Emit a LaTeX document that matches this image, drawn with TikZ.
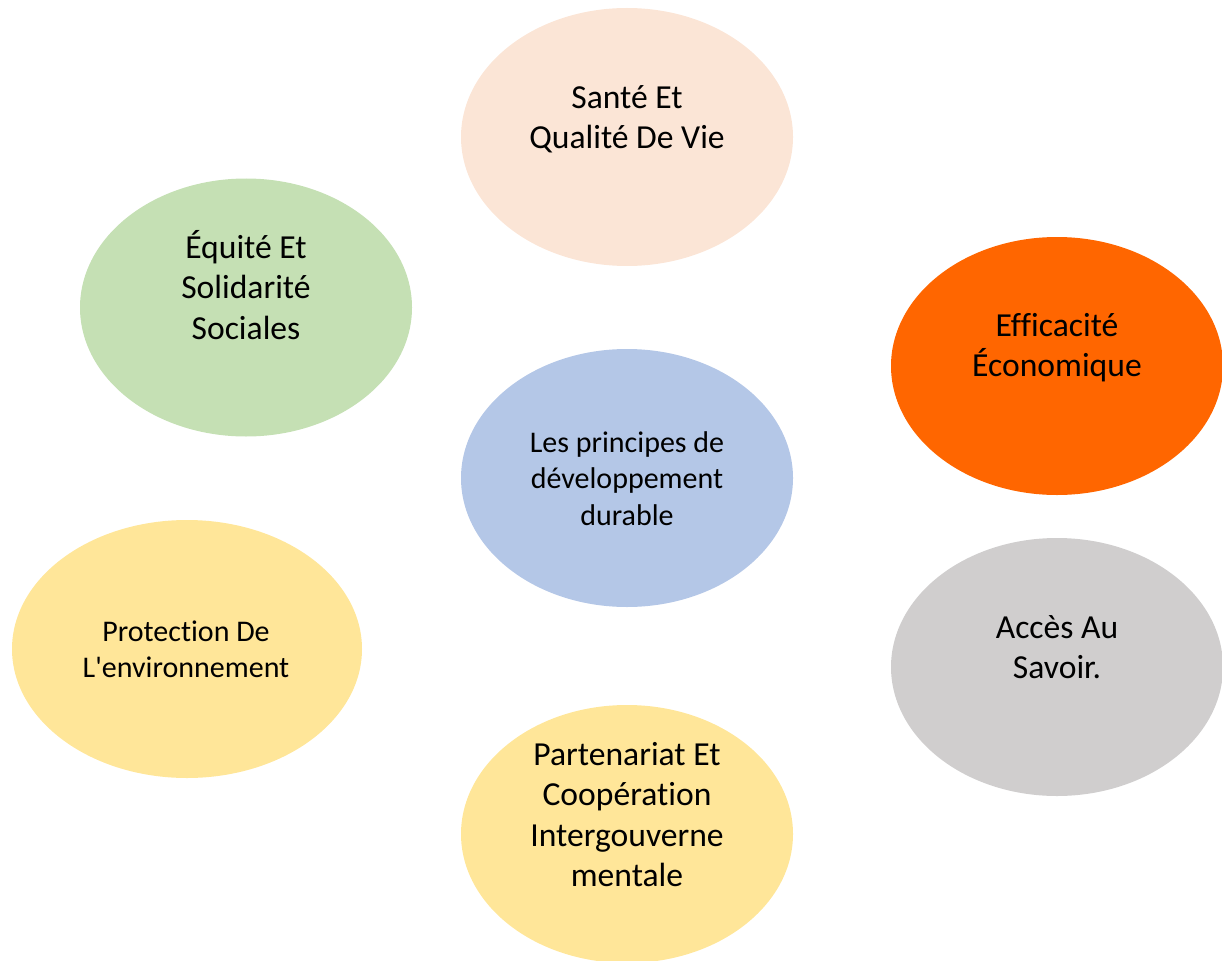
\documentclass[tikz,border=0pt]{standalone}
\usepackage{fontspec}
\setmainfont{Carlito}[Ligatures={TeXOff,CommonOff}]
\usetikzlibrary{shapes.geometric}
\definecolor{cPeach}{HTML}{FBE5D6}
\definecolor{cGreen}{HTML}{C5E0B4}
\definecolor{cOrange}{HTML}{FF6600}
\definecolor{cBlue}{HTML}{B4C7E7}
\definecolor{cYellow}{HTML}{FFE699}
\definecolor{cGray}{HTML}{D0CECE}
\tikzset{
  bubble/.style={ellipse, draw=none, inner sep=0pt, minimum width=332pt, minimum height=258pt},
  bigtext/.style={anchor=north, inner sep=0pt, align=center, font=\fontsize{33.6}{40.5}\selectfont},
  smalltext/.style={anchor=north, inner sep=0pt, align=center, font=\fontsize{30}{36.5}\selectfont},
}
\begin{document}
\begin{tikzpicture}[x=1pt, y=-1pt]
\useasboundingbox (0,0) rectangle (1222,960);
\node[bubble, fill=cPeach] (sante) at (627,137) {};
\node[bubble, fill=cGreen] (equite) at (246,307.5) {};
\node[bubble, fill=cOrange] (eco) at (1057,366) {};
\node[bubble, fill=cBlue] (centre) at (627,478) {};
\node[bubble, fill=cYellow, minimum width=350pt] (env) at (187,649) {};
\node[bubble, fill=cGray] (savoir) at (1057,667) {};
\node[bubble, fill=cYellow] (coop) at (627,834) {};

\node[bigtext] (tsante) at (627,79.7) {\strut Santé Et\\\strut Qualité De Vie};
\node[bigtext] (tequite) at (246,229.7) {\strut Équité Et\\\strut Solidarité\\\strut Sociales};
\node[bigtext] (teco) at (1057,307.7) {\strut Efficacité\\\strut Économique};
\node[bigtext] (tsavoir) at (1057,609.7) {\strut Accès Au\\\strut Savoir.};
\node[bigtext] (tcoop) at (627,736.7) {\strut Partenariat Et\\\strut Coopération\\\strut Intergouverne\\\strut mentale};
\node[smalltext] (tcentre) at (627,426.5) {\strut Les principes de\\\strut développement\\\strut durable};
\node[smalltext] (tenv) at (186,615.5) {\strut Protection De\\\strut L'environnement};
\end{tikzpicture}
\end{document}
